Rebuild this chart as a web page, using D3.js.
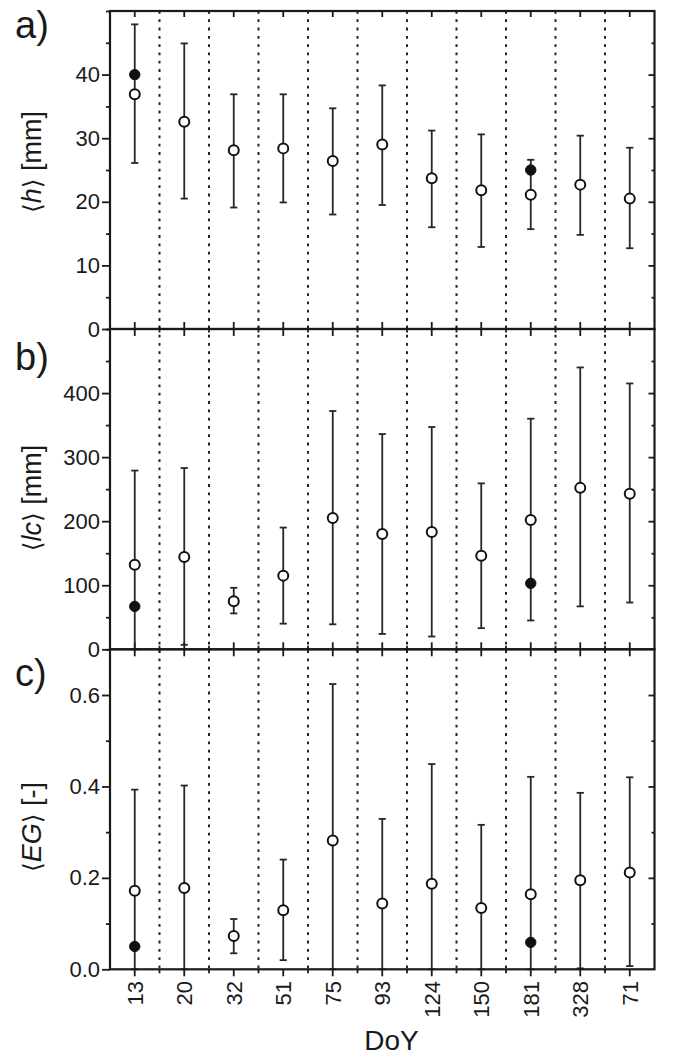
<!DOCTYPE html>
<html><head><meta charset="utf-8">
<script src="https://cdn.jsdelivr.net/npm/d3@7"></script>
<style>
body{margin:0;background:#fff;}
svg{display:block;font-family:"Liberation Sans",Arial,sans-serif;}
</style></head>
<body>
<svg id="chart" width="676" height="1057"></svg>
<script>
// ---- data ----
const categories = ["13","20","32","51","75","93","124","150","181","328","71"];

const hMean   = [36.9, 32.6, 28.1, 28.4, 26.4, 29.0, 23.7, 21.8, 21.1, 22.7, 20.5];
const hLow    = [26.1, 20.5, 19.1, 19.9, 18.0, 19.5, 16.0, 12.9, 15.7, 14.8, 12.7];
const hHigh   = [47.9, 44.9, 36.9, 36.9, 34.7, 38.3, 31.2, 30.6, 26.6, 30.4, 28.5];
const hFilled = [40.0, null, null, null, null, null, null, null, 25.0, null, null];

const lcMean   = [132, 144, 75, 115, 205, 180, 183, 146, 202, 252, 243];
const lcLow    = [0, 7, 56, 40, 39, 24, 20, 33, 45, 67, 73];
const lcHigh   = [279, 283, 96, 190, 372, 336, 347, 259, 360, 440, 415];
const lcFilled = [67, null, null, null, null, null, null, null, 103, null, null];

const egMean   = [0.172, 0.178, 0.073, 0.129, 0.282, 0.144, 0.187, 0.134, 0.164, 0.195, 0.212];
const egLow    = [0, 0, 0.035, 0.020, 0, 0, 0, 0, 0, 0.002, 0.007];
const egHigh   = [0.393, 0.402, 0.110, 0.240, 0.624, 0.329, 0.449, 0.316, 0.421, 0.386, 0.420];
const egFilled = [0.050, null, null, null, null, null, null, null, 0.059, null, null];

const hTicks  = [0, 10, 20, 30, 40];
const hMinor  = [5, 15, 25, 35, 45, 50];
const lcTicks = [0, 100, 200, 300, 400];
const lcMinor = [50, 150, 250, 350, 450, 500];
const egTicks = [0.0, 0.2, 0.4, 0.6];
const egMinor = [0.1, 0.3, 0.5, 0.7];

// ---- layout ----
const svg = d3.select("#chart");
const left = 110, right = 654.5;
const INK = "#1a1a1a";
const SW = 1.8;

const x = d3.scaleBand().domain(categories).range([left, right]).padding(0);
const xc = d => x(d) + x.bandwidth() / 2;

const panels = [
  {label:"a)", top:11, bottom:329, domain:[0,50], ticks:hTicks, minor:hMinor, fmt:d3.format("d"),
   mean:hMean, low:hLow, high:hHigh, filled:hFilled, title:["h"," [mm]"], labelY:38, titleY:162, first:true},
  {label:"b)", top:329, bottom:649.3, domain:[0,500], ticks:lcTicks, minor:lcMinor, fmt:d3.format("d"),
   mean:lcMean, low:lcLow, high:lcHigh, filled:lcFilled, title:["lc"," [mm]"], labelY:370, titleY:498},
  {label:"c)", top:649.3, bottom:969.3, domain:[0,0.7], ticks:egTicks, minor:egMinor, fmt:d3.format(".1f"),
   mean:egMean, low:egLow, high:egHigh, filled:egFilled, title:["EG"," [-]"], labelY:686, titleY:827, last:true}
];

// vertical dotted separators (through all panels)
const bounds = categories.slice(1).map(c => x(c));
svg.append("g").selectAll("line").data(bounds).join("line")
  .attr("x1", d => d).attr("x2", d => d)
  .attr("y1", 11).attr("y2", 969.3)
  .attr("stroke", "#222").attr("stroke-width", 2)
  .attr("stroke-dasharray", "2.8,5.5");

panels.forEach(p => {
  const y = d3.scaleLinear().domain(p.domain).range([p.bottom, p.top]);
  const g = svg.append("g");

  // left axis major (labelled, outward)
  const ax = g.append("g").attr("transform", `translate(${left},0)`)
    .call(d3.axisLeft(y).tickValues(p.ticks).tickFormat(p.fmt).tickSize(8).tickPadding(2));
  ax.select(".domain").remove();
  ax.selectAll("line").attr("stroke", INK).attr("stroke-width", SW);
  ax.selectAll("text").attr("font-size", 22).attr("fill", INK)
    .attr("font-family", '"Liberation Sans",Arial,sans-serif');
  // left minor
  const axm = g.append("g").attr("transform", `translate(${left},0)`)
    .call(d3.axisLeft(y).tickValues(p.minor).tickFormat("").tickSize(4));
  axm.select(".domain").remove();
  axm.selectAll("line").attr("stroke", INK).attr("stroke-width", SW);

  // right axis (inward)
  const ar = g.append("g").attr("transform", `translate(${right},0)`)
    .call(d3.axisLeft(y).tickValues(p.ticks.filter(v => v !== 0)).tickFormat("").tickSize(6));
  ar.select(".domain").remove();
  ar.selectAll("line").attr("stroke", INK).attr("stroke-width", SW);
  const arm = g.append("g").attr("transform", `translate(${right},0)`)
    .call(d3.axisLeft(y).tickValues(p.minor.filter(v => y(v) > p.top + 1)).tickFormat("").tickSize(3));
  arm.select(".domain").remove();
  arm.selectAll("line").attr("stroke", INK).attr("stroke-width", SW);

  // category ticks at bottom of panel
  const bt = g.append("g");
  if (p.last) {
    bt.selectAll("line.c").data(categories).join("line").attr("class","c")
      .attr("x1", xc).attr("x2", xc).attr("y1", p.bottom).attr("y2", p.bottom + 7)
      .attr("stroke", INK).attr("stroke-width", SW);
    bt.selectAll("line.b").data(bounds).join("line").attr("class","b")
      .attr("x1", d => d).attr("x2", d => d).attr("y1", p.bottom).attr("y2", p.bottom + 4)
      .attr("stroke", INK).attr("stroke-width", SW);
  } else {
    bt.selectAll("line.c").data(categories).join("line").attr("class","c")
      .attr("x1", xc).attr("x2", xc).attr("y1", p.bottom - 7).attr("y2", p.bottom + 7)
      .attr("stroke", INK).attr("stroke-width", SW);
    bt.selectAll("line.b").data(bounds).join("line").attr("class","b")
      .attr("x1", d => d).attr("x2", d => d).attr("y1", p.bottom - 3.5).attr("y2", p.bottom + 3.5)
      .attr("stroke", INK).attr("stroke-width", SW);
  }
  if (p.first) {
    g.append("g").selectAll("line").data(categories).join("line")
      .attr("x1", xc).attr("x2", xc).attr("y1", p.top).attr("y2", p.top + 6)
      .attr("stroke", INK).attr("stroke-width", SW);
  }

  // error bars
  const eb = g.append("g").attr("stroke", "#262626").attr("stroke-width", 1.8);
  categories.forEach((c, i) => {
    const cx = xc(c);
    eb.append("line").attr("x1", cx).attr("x2", cx).attr("y1", y(p.low[i])).attr("y2", y(p.high[i]));
    eb.append("line").attr("x1", cx - 3.6).attr("x2", cx + 3.6).attr("y1", y(p.high[i])).attr("y2", y(p.high[i]));
    eb.append("line").attr("x1", cx - 3.6).attr("x2", cx + 3.6).attr("y1", y(p.low[i])).attr("y2", y(p.low[i]));
  });

  // filled points
  g.append("g").selectAll("circle").data(categories.map((c, i) => ({c, v: p.filled[i]})).filter(d => d.v !== null))
    .join("circle").attr("cx", d => xc(d.c)).attr("cy", d => y(d.v)).attr("r", 5.2)
    .attr("fill", "#111").attr("stroke", "#111").attr("stroke-width", 1);

  // open points
  g.append("g").selectAll("circle").data(categories.map((c, i) => ({c, v: p.mean[i]})))
    .join("circle").attr("cx", d => xc(d.c)).attr("cy", d => y(d.v)).attr("r", 5)
    .attr("fill", "#fff").attr("stroke", "#111").attr("stroke-width", 2);

  // frame
  g.append("rect").attr("x", left).attr("y", p.top).attr("width", right - left).attr("height", p.bottom - p.top)
    .attr("fill", "none").attr("stroke", INK).attr("stroke-width", 2.2);
  // panel letter
  svg.append("text").attr("x", 15).attr("y", p.labelY).attr("font-size", 38).attr("fill", INK).text(p.label);

  // y title
  const t = svg.append("text").attr("transform", `translate(41,${p.titleY}) rotate(-90)`)
    .attr("text-anchor", "middle").attr("font-size", 27).attr("fill", INK);
  t.append("tspan").attr("font-family", '"DejaVu Sans",sans-serif').attr("font-size", 25).text("⟨");
  t.append("tspan").attr("font-style", "italic").text(p.title[0]);
  t.append("tspan").attr("font-family", '"DejaVu Sans",sans-serif').attr("font-size", 25).text("⟩");
  t.append("tspan").text(p.title[1]);
});

// x tick labels (rotated)
svg.append("g").selectAll("text").data(categories).join("text")
  .attr("transform", d => `translate(${xc(d)},981) rotate(-90)`)
  .attr("text-anchor", "end").attr("dy", "0.36em")
  .attr("font-size", 22).attr("fill", INK).text(d => d);

// x title
svg.append("text").attr("x", 391.5).attr("y", 1050).attr("text-anchor", "middle")
  .attr("font-size", 28).attr("fill", INK).text("DoY");
</script>
</body></html>
